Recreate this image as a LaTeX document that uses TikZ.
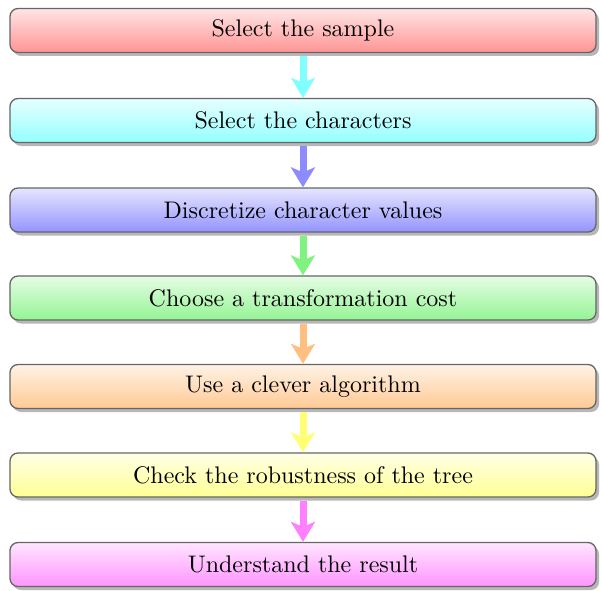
\documentclass[tikz,border=0pt]{standalone}
\usepackage{graphicx}
\usetikzlibrary{shadows,arrows.meta}
\definecolor{cRed}{RGB}{255,0,0}
\definecolor{cCyan}{RGB}{0,255,255}
\definecolor{cBlue}{RGB}{0,0,255}
\definecolor{cGreen}{RGB}{0,230,0}
\definecolor{cOrange}{RGB}{255,128,0}
\definecolor{cYellow}{RGB}{255,255,0}
\definecolor{cMagenta}{RGB}{255,0,255}
\newcommand{\steptext}[1]{\scalebox{2.4}{#1}}
\begin{document}
\begin{tikzpicture}[x=1pt,y=-1pt,
  stepbox/.style={draw=black!60, line width=1.3pt, rounded corners=8pt,
    minimum width=586pt, minimum height=44pt, inner sep=0pt,
    drop shadow={shadow xshift=3pt, shadow yshift=-3.5pt, fill=black!40, opacity=0.7},
    top color=#1!10, bottom color=#1!42},
  flow/.style={draw=#1, line width=7pt,
    -{Stealth[length=20pt, width=24pt, inset=5pt]}, shorten <=3pt}
]
\useasboundingbox (0,0) rectangle (602,591);
\node[stepbox=cRed]     (s1) at (303,30.5)  {\steptext{Select the sample}};
\node[stepbox=cCyan]    (s2) at (303,120.5) {\steptext{Select the characters}};
\node[stepbox=cBlue]    (s3) at (303,210)   {\steptext{Discretize character values}};
\node[stepbox=cGreen]   (s4) at (303,298)   {\steptext{Choose a transformation cost}};
\node[stepbox=cOrange]  (s5) at (303,386.5) {\steptext{Use a clever algorithm}};
\node[stepbox=cYellow]  (s6) at (303,475)   {\steptext{Check the robustness of the tree}};
\node[stepbox=cMagenta] (s7) at (303,564.5) {\steptext{Understand the result}};
\draw[flow=cCyan!50]    (s1.south) -- (s2.north);
\draw[flow=cBlue!45]    (s2.south) -- (s3.north);
\draw[flow=cGreen!50]   (s3.south) -- (s4.north);
\draw[flow=cOrange!50]  (s4.south) -- (s5.north);
\draw[flow=cYellow!55]  (s5.south) -- (s6.north);
\draw[flow=cMagenta!50] (s6.south) -- (s7.north);
\end{tikzpicture}
\end{document}
